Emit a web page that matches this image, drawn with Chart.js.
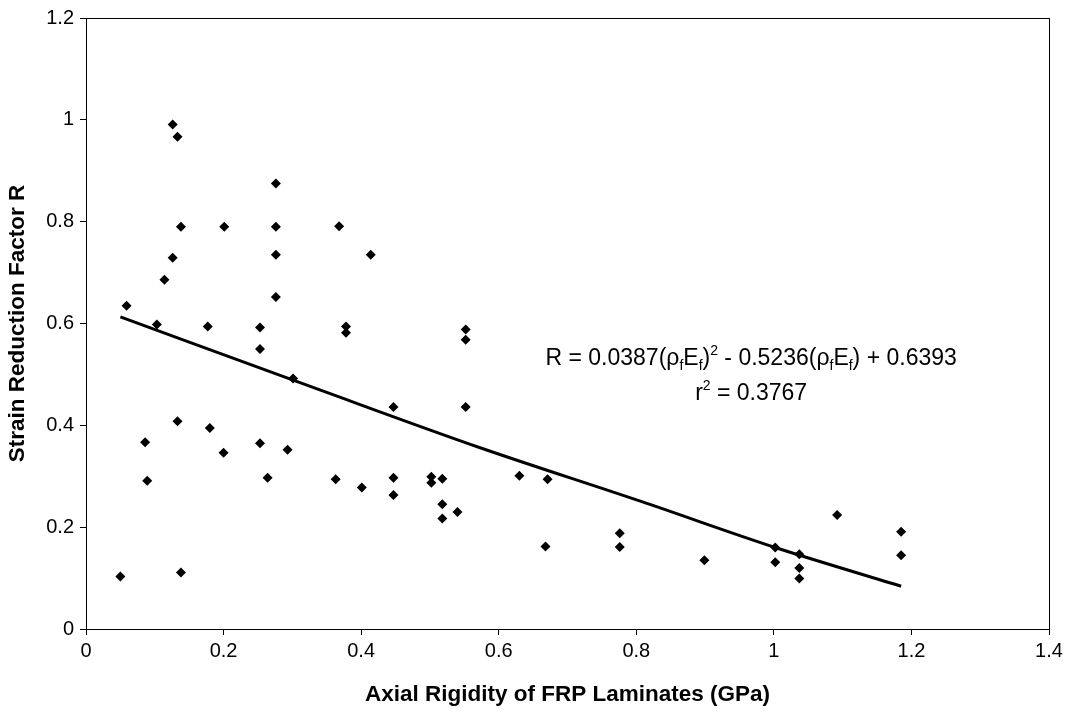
<!DOCTYPE html>
<html>
<head>
<meta charset="utf-8">
<script src="https://cdn.jsdelivr.net/npm/chart.js@4.4.0/dist/chart.umd.min.js"></script>
<style>
  html, body { margin: 0; padding: 0; background: #fff; }
  #wrap { width: 1073px; height: 712px; }
</style>
</head>
<body>
<div id="wrap"><canvas id="chart" width="1073" height="712"></canvas></div>
<script>
// Axial rigidity (GPa) and strain reduction factor R
const rigidity = [
  0.050, 0.059, 0.086, 0.089, 0.103, 0.114, 0.126, 0.126, 0.133, 0.133,
  0.138, 0.138, 0.177, 0.180, 0.200, 0.201, 0.253, 0.253, 0.253, 0.264,
  0.276, 0.276, 0.276, 0.276, 0.293, 0.301, 0.363, 0.368, 0.378, 0.378,
  0.401, 0.414, 0.447, 0.447, 0.447, 0.502, 0.502, 0.518, 0.518, 0.518,
  0.540, 0.552, 0.552, 0.552, 0.630, 0.668, 0.671, 0.776, 0.776, 0.899,
  1.002, 1.002, 1.037, 1.037, 1.037, 1.092, 1.185, 1.185
];
const factorR = [
  0.103, 0.635, 0.367, 0.291, 0.598, 0.686, 0.991, 0.729, 0.967, 0.408,
  0.790, 0.111, 0.594, 0.395, 0.346, 0.790, 0.592, 0.550, 0.365, 0.297,
  0.875, 0.790, 0.735, 0.652, 0.352, 0.492, 0.294, 0.791, 0.594, 0.582,
  0.278, 0.735, 0.436, 0.297, 0.263, 0.299, 0.287, 0.295, 0.245, 0.217,
  0.230, 0.588, 0.568, 0.436, 0.301, 0.162, 0.294, 0.188, 0.161, 0.135,
  0.160, 0.131, 0.147, 0.120, 0.099, 0.224, 0.191, 0.145
];

// trend line as drawn in the figure
const trendX = [0.05, 0.341, 0.573, 0.806, 1.002, 1.185];
const trendY = [0.613, 0.469, 0.356, 0.251, 0.160, 0.084];

const xTitle = "Axial Rigidity of FRP Laminates (GPa)";
const yTitle = "Strain Reduction Factor R";

const FONT = "Arial, 'Liberation Sans', sans-serif";

const points = rigidity.map((x, i) => ({ x: x, y: factorR[i] }));
const trend = trendX.map((x, i) => ({ x: x, y: trendY[i] }));

// frame around the plot area
const frame = {
  id: "frame",
  afterDraw(chart) {
    const { ctx, chartArea } = chart;
    ctx.save();
    ctx.strokeStyle = "#000";
    ctx.lineWidth = 1;
    ctx.strokeRect(chartArea.left + 0.5, chartArea.top + 0.5,
      chartArea.right - chartArea.left, chartArea.bottom - chartArea.top);
    ctx.restore();
  }
};

// regression equation with sub / superscripts
function drawRich(ctx, parts, cx, baseline, size) {
  const big = size + "px " + FONT;
  const small = Math.round(size * 0.6) + "px " + FONT;
  let total = 0;
  parts.forEach(p => {
    ctx.font = p[1] === "n" ? big : small;
    total += ctx.measureText(p[0]).width;
  });
  let x = cx - total / 2;
  parts.forEach(p => {
    ctx.font = p[1] === "n" ? big : small;
    let y = baseline;
    if (p[1] === "sub") y += size * 0.2;
    if (p[1] === "sup") y -= size * 0.45;
    ctx.fillText(p[0], x, y);
    x += ctx.measureText(p[0]).width;
  });
}

const equation = {
  id: "equation",
  afterDraw(chart) {
    const { ctx } = chart;
    const xs = chart.scales.x, ys = chart.scales.y;
    const cx = xs.getPixelForValue(0.967);
    ctx.save();
    ctx.fillStyle = "#000";
    ctx.textAlign = "left";
    ctx.textBaseline = "alphabetic";
    drawRich(ctx, [
      ["R = 0.0387(\u03c1", "n"], ["f", "sub"], ["E", "n"], ["f", "sub"], [")", "n"], ["2", "sup"],
      [" - 0.5236(\u03c1", "n"], ["f", "sub"], ["E", "n"], ["f", "sub"], [") + 0.6393", "n"]
    ], cx, ys.getPixelForValue(0.518), 23);
    drawRich(ctx, [["r", "n"], ["2", "sup"], [" = 0.3767", "n"]], cx, ys.getPixelForValue(0.45), 23);
    ctx.restore();
  }
};

const tickLabel = v => String(Math.round(v * 10) / 10);

new Chart(document.getElementById("chart"), {
  type: "scatter",
  data: {
    datasets: [
      {
        label: "R",
        data: points,
        pointStyle: "rectRot",
        pointRadius: 5,
        pointBorderWidth: 0,
        backgroundColor: "#000",
        borderColor: "#000"
      },
      {
        type: "line",
        label: "trend",
        data: trend,
        showLine: true,
        cubicInterpolationMode: "monotone",
        pointRadius: 0,
        borderColor: "#000",
        borderWidth: 3,
        fill: false
      }
    ]
  },
  options: {
    responsive: false,
    animation: false,
    layout: { padding: { top: 17, right: 24, left: 0, bottom: 0 } },
    plugins: {
      legend: { display: false },
      tooltip: { enabled: false }
    },
    scales: {
      x: {
        type: "linear",
        min: 0,
        max: 1.4,
        afterFit(scale) { scale.height = 83; },
        ticks: { stepSize: 0.2, color: "#000", font: { family: FONT, size: 20 }, padding: 4, maxRotation: 0, callback: tickLabel },
        grid: { drawOnChartArea: false, drawTicks: true, tickLength: 6, color: "#000" },
        border: { display: true, color: "#000", width: 1 },
        title: { display: true, text: xTitle, color: "#000", font: { family: FONT, size: 22.5, weight: "bold" }, padding: { top: 0, bottom: 4 } }
      },
      y: {
        type: "linear",
        min: 0,
        max: 1.2,
        afterFit(scale) { scale.width = 86; },
        ticks: { stepSize: 0.2, color: "#000", font: { family: FONT, size: 20 }, padding: 6, callback: tickLabel },
        grid: { drawOnChartArea: false, drawTicks: true, tickLength: 6, color: "#000" },
        border: { display: true, color: "#000", width: 1 },
        title: { display: true, text: yTitle, color: "#000", font: { family: FONT, size: 22.5, weight: "bold" }, padding: { top: 4, bottom: 0 } }
      }
    }
  },
  plugins: [frame, equation]
});
</script>
</body>
</html>
